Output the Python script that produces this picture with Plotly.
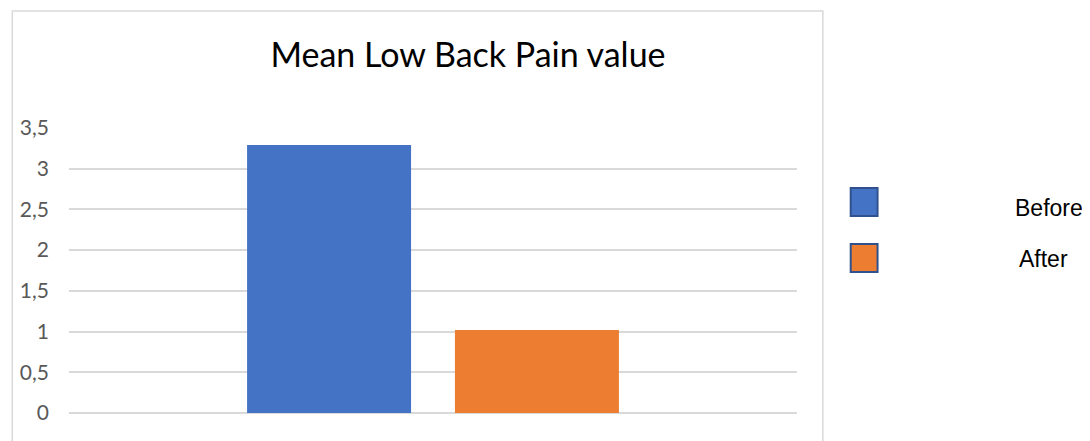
import plotly.graph_objects as go


# data
categories = ["Low Back Pain"]
series_names = ["Before", "After"]
series_values = [[3.29], [1.02]]
series_colors = ["#4472C4", "#ED7D31"]
y_ticks = [0, 0.5, 1, 1.5, 2, 2.5, 3, 3.5]


fig = go.Figure()

for name, vals, col in zip(series_names, series_values, series_colors):
    fig.add_trace(
        go.Bar(
            x=categories,
            y=vals,
            name=name,
            marker=dict(color=col, line=dict(width=0)),
            showlegend=False
        )
    )


# the page body adds an 8px margin, so the figure is drawn 8px smaller
# and every reference pixel position is shifted by that offset
OFF = 8
W, H = 1090 - OFF, 441 - OFF
L = 65 - OFF
T = 128 - OFF
R = W - (797 - OFF)
B = H - (413 - OFF)
pw = W - L - R
ph = H - T - B


def px_x(x):
    return (x - OFF - L) / pw


def px_y(y):
    return (H - B - (y - OFF)) / ph


# outer chart border
fig.add_shape(
    type="rect", xref="paper", yref="paper",
    x0=px_x(8), x1=px_x(823), y0=px_y(470), y1=px_y(11),
    line=dict(color="#d9d9d9", width=1.5),
    fillcolor="rgba(0,0,0,0)", layer="below"
)

# legend drawn by hand (large boxes, text far to the right)
legend_rows = [(188, 208, 1050), (244, 259, 1045)]
for (top, mid, tx), name, col in zip(legend_rows, series_names, series_colors):
    fig.add_shape(
        type="rect", xref="paper", yref="paper",
        x0=px_x(851), x1=px_x(878), y0=px_y(top + 28), y1=px_y(top),
        line=dict(color="#2F528F", width=2),
        fillcolor=col
    )
    fig.add_annotation(
        xref="paper", yref="paper",
        x=px_x(tx), y=px_y(mid),
        text=name, showarrow=False,
        xanchor="center", yanchor="middle",
        font=dict(family="Liberation Sans, Arial", size=23, color="#000000")
    )


fig.update_layout(
    title=dict(
        text="Mean Low Back Pain value",
        x=(468 - OFF) / W, xanchor="center",
        y=1 - (55 - OFF) / H, yanchor="middle",
        font=dict(family="Lato", size=34, color="#000000")
    ),
    width=W,
    height=H,
    margin=dict(l=L, r=R, t=T, b=B),
    plot_bgcolor="white",
    paper_bgcolor="white",
    barmode="group",
    bargap=0.429,
    bargroupgap=0.211,
    separators=", ",
    showlegend=False,
    font=dict(family="Lato")
)

fig.update_xaxes(
    showticklabels=False,
    showgrid=False,
    showline=False,
    zeroline=False
)

fig.update_yaxes(
    range=[0, 3.5],
    tickvals=y_ticks,
    showgrid=True,
    gridcolor="#d9d9d9",
    gridwidth=1.5,
    zeroline=True,
    zerolinecolor="#d9d9d9",
    zerolinewidth=1.5,
    showline=False,
    ticks="",
    ticklabelstandoff=19,
    tickfont=dict(family="Lato", size=21, color="#595959")
)


fig.write_html("out.html")
